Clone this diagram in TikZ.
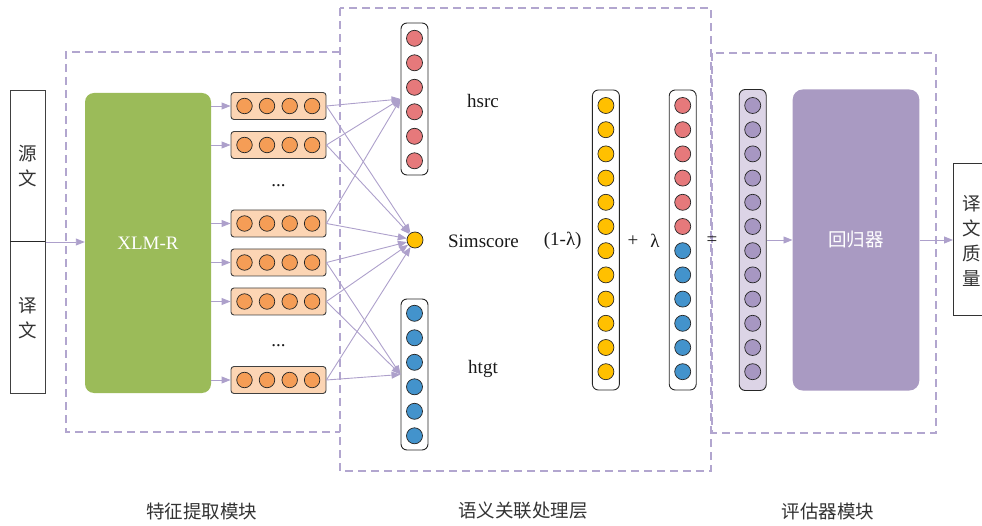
\documentclass[tikz,border=0pt]{standalone}
\usepackage{fontspec}
\setmainfont{Liberation Serif}
\newfontfamily\cjk{Noto Sans CJK SC}
\usetikzlibrary{arrows.meta}
\definecolor{lav}{HTML}{B2A6CF}
\definecolor{arr}{HTML}{ADA0CB}
\definecolor{grn}{HTML}{9BBB59}
\definecolor{tokfill}{HTML}{FCD5B4}
\definecolor{tokdot}{HTML}{F59D56}
\definecolor{redd}{HTML}{E6797B}
\definecolor{blued}{HTML}{4393CC}
\definecolor{yell}{HTML}{FFC000}
\definecolor{purd}{HTML}{A797C2}
\definecolor{purfill}{HTML}{DCD4E6}
\definecolor{regc}{HTML}{A99AC2}
\tikzset{
  dashbox/.style={draw=lav, line width=1.2pt, dash pattern=on 8pt off 5pt},
  arrowln/.style={draw=arr, line width=0.9pt, -{Triangle[length=9pt,width=7pt]}, arr},
  tokbox/.style={draw=black!75, line width=0.9pt, fill=tokfill, rounded corners=3pt, minimum width=95pt, minimum height=27pt, inner sep=0pt},
  colbox/.style={draw=black!85, line width=0.9pt, rounded corners=6pt, minimum width=27pt, inner sep=0pt},
  dot/.style={circle, draw=black!85, line width=0.7pt, minimum size=16pt, inner sep=0pt},
  lbl/.style={font=\fontsize{19}{25}\selectfont, text=black!90, inner sep=0pt},
  cjklbl/.style={font=\fontsize{18.5}{25}\selectfont\cjk, text=black!80, inner sep=0pt, align=center},
}
\begin{document}
\begin{tikzpicture}[x=1pt,y=-1pt]
\useasboundingbox (0,0) rectangle (982,526);
% dashed module boxes
\draw[dashbox] (340,52) -- (66,52) -- (66,432) -- (340,432);
\draw[dashbox] (340,8) rectangle (711,471);
\draw[dashbox] (712,53) rectangle (936,433);

% input box
\node[draw=black!75, line width=1pt, minimum width=35pt, minimum height=302pt, inner sep=0pt] (inp) at (27.5,242) {};
\draw[black!85, line width=1pt] (10,242) -- (45,242);
\node[cjklbl] (src) at (27.5,166) {源\\文};
\node[cjklbl] (tgt) at (27.5,318) {译\\文};

% XLM-R
\node[fill=grn, rounded corners=9pt, minimum width=126pt, minimum height=300pt, inner sep=0pt, font=\fontsize{19}{22}\selectfont, text=white] (xlmr) at (148,243) {XLM-R};
\draw[arrowln] (inp.east) -- (inp.east -| xlmr.west);

% token boxes
\foreach \i/\y in {1/106,2/145,3/223.5,4/262.5,5/301.5,6/380}{
  \node[tokbox] (t\i) at (278.5,\y) {};
  \foreach \dx in {-34,-11.5,11.2,33.6}
    \node[dot, fill=tokdot, minimum size=15.5pt] at (278.5+\dx,\y) {};
  \draw[arrowln] (xlmr.east |- t\i) -- (t\i.west);
}
\node[lbl, anchor=base] (d1) at (278.5,187) {...};
\node[lbl, anchor=base] (d2) at (278.5,346) {...};

% hsrc column
\node[colbox, minimum height=152pt] (hs) at (414.5,99) {};
\foreach \k in {0,...,5}
  \node[dot, fill=redd] at (414.5,38.3+24.5*\k) {};
% simscore
\node[dot, fill=yell] (sim) at (415,240) {};
% htgt column
\node[colbox, minimum height=151pt] (ht) at (414.5,374.5) {};
\foreach \k in {0,...,5}
  \node[dot, fill=blued] at (414.5,313.3+24.5*\k) {};

% connectors from tokens
\foreach \i in {1,2,3}{
  \draw[arrowln] (t\i.east) -- (hs.west);
  \draw[arrowln] (t\i.east) -- (sim);
}
\foreach \i in {4,5,6}{
  \draw[arrowln] (t\i.east) -- (sim);
  \draw[arrowln] (t\i.east) -- (ht.west);
}

% labels
\node[lbl] (lhs) at (483,101) {hsrc};
\node[lbl] (lsim) at (483.5,241) {Simscore};
\node[lbl] (lht) at (483,369) {htgt};
\node[lbl] (lam1) at (562.7,241) {(1-λ)};
\node[lbl] (plus) at (633,241) {+};
\node[lbl] (lam) at (655,241) {λ};
\node[lbl] (eq) at (712,241) {=};

% yellow column
\node[colbox, minimum height=300pt] (cy) at (605.9,240) {};
\foreach \k in {0,...,11}
  \node[dot, fill=yell] at (605.9,105.5+24.2*\k) {};
% mixed column
\node[colbox, minimum height=300pt] (cm) at (682.7,240) {};
\foreach \k in {0,...,5}
  \node[dot, fill=redd] at (682.7,105.5+24.2*\k) {};
\foreach \k in {6,...,11}
  \node[dot, fill=blued] at (682.7,105.5+24.2*\k) {};
% purple column
\node[colbox, fill=purfill, minimum height=301pt] (cp) at (752.7,240) {};
\foreach \k in {0,...,11}
  \node[dot, fill=purd] at (752.7,105.5+24.2*\k) {};

% regressor
\node[fill=regc, rounded corners=10pt, minimum width=126.6pt, minimum height=301pt, inner sep=0pt, font=\fontsize{18.5}{22}\selectfont\cjk, text=white] (reg) at (856,240) {回归器};
\draw[arrowln] (cp.east) -- (cp.east -| reg.west);

% output box
\node[draw=black!80, line width=1pt, minimum width=45pt, minimum height=152pt, inner sep=0pt, anchor=west] (out) at (953,240) {};
\node[cjklbl] (outt) at (971.5,240.5) {译\\文\\质\\量};
\draw[arrowln] (reg.east) -- (out.west);

% module titles
\node[cjklbl] (m1) at (201.5,511) {特征提取模块};
\node[cjklbl] (m2) at (523,511) {语义关联处理层};
\node[cjklbl] (m3) at (828,511) {评估器模块};
\end{tikzpicture}
\end{document}
